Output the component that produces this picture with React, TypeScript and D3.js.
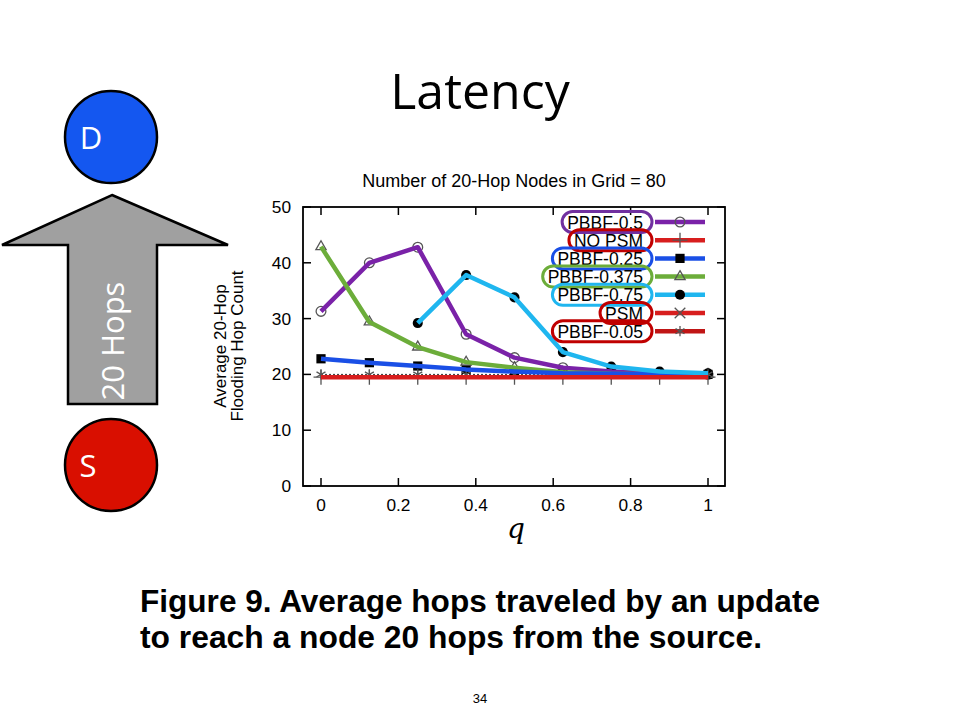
import React, { useEffect, useRef } from 'react';
import * as d3 from 'd3';

// values (q on x, hop count on y)
const qValues = [0, 0.125, 0.25, 0.375, 0.5, 0.625, 0.75, 0.875, 1];
const pbbf05 = [31.3, 40.0, 42.8, 27.2, 23.0, 21.2, 20.5, 20.2, 20.0];
const noPsm = [19.5, 19.5, 19.5, 19.5, 19.5, 19.5, 19.5, 19.5, 19.5];
const pbbf025 = [22.8, 22.1, 21.5, 20.9, 20.5, 20.2, 20.1, 20.0, 20.0];
const pbbf0375 = [42.9, 29.4, 24.9, 22.2, 21.2, 20.4, 20.1, 20.0, 20.0];
const pbbf075 = [null, null, 29.2, 37.8, 33.8, 24.0, 21.4, 20.5, 20.2];
const psm = [19.6, 19.6, 19.6, 19.6, 19.6, 19.6, 19.6, 19.6, 19.6];
const pbbf005 = [20.0, 20.0, 20.0, 20.0, 20.0, 20.0, 20.0, 20.0, 20.0];

const legendNames = ['PBBF-0.5', 'NO PSM', 'PBBF-0.25', 'PBBF-0.375', 'PBBF-0.75', 'PSM', 'PBBF-0.05'];
const xTicks = [0, 0.2, 0.4, 0.6, 0.8, 1];
const yTicks = [0, 10, 20, 30, 40, 50];

const chartFont = '"Liberation Sans", Arial, sans-serif';
const slideFont = '"Open Sans", "Noto Sans", sans-serif';

function App(): JSX.Element {
  const svgRef = useRef<SVGSVGElement>(null);

  useEffect(() => {
    const svg = d3.select(svgRef.current);
    svg.selectAll('*').remove();

    // ---- slide decorations ----
    svg.append('text')
      .attr('x', 480).attr('y', 109)
      .attr('text-anchor', 'middle')
      .attr('font-family', slideFont)
      .attr('font-size', 50)
      .text('Latency');

    const arrowPts: [number, number][] = [
      [112, 195], [228, 245], [157, 245], [157, 404], [68, 404], [68, 245], [2, 245],
    ];
    svg.append('polygon')
      .attr('points', arrowPts.map(p => p.join(',')).join(' '))
      .attr('fill', '#a0a0a0')
      .attr('stroke', '#000')
      .attr('stroke-width', 2.5);

    svg.append('text')
      .attr('transform', 'translate(124,341) rotate(-90)')
      .attr('text-anchor', 'middle')
      .attr('font-family', slideFont)
      .attr('font-size', 31)
      .attr('fill', '#fff')
      .text('20 Hops');

    const nodes = [
      { label: 'D', cy: 137, fill: '#1457f0', lx: 91 },
      { label: 'S', cy: 465, fill: '#d90f00', lx: 88 },
    ];
    nodes.forEach(n => {
      svg.append('circle')
        .attr('cx', 111).attr('cy', n.cy).attr('r', 46)
        .attr('fill', n.fill)
        .attr('stroke', '#000')
        .attr('stroke-width', 2.5);
      svg.append('text')
        .attr('x', n.lx).attr('y', n.cy + 12)
        .attr('text-anchor', 'middle')
        .attr('font-family', slideFont)
        .attr('font-size', 31)
        .attr('fill', '#fff')
        .text(n.label);
    });

    // ---- chart ----
    const x = d3.scaleLinear().domain([0, 1]).range([321, 708]);
    const y = d3.scaleLinear().domain([0, 50]).range([486, 207]);
    const box = { left: 303, right: 725, top: y(50), bottom: y(0) };

    const g = svg.append('g').attr('font-family', chartFont);

    g.append('text')
      .attr('x', 514).attr('y', 187)
      .attr('text-anchor', 'middle')
      .attr('font-size', 18)
      .text('Number of 20-Hop Nodes in Grid = 80');

    // ticks, mirrored on all sides
    const tickLen = 8;
    xTicks.forEach(t => {
      g.append('line')
        .attr('x1', x(t)).attr('x2', x(t))
        .attr('y1', box.bottom).attr('y2', box.bottom - tickLen)
        .attr('stroke', '#000').attr('stroke-width', 1.5);
      g.append('line')
        .attr('x1', x(t)).attr('x2', x(t))
        .attr('y1', box.top).attr('y2', box.top + tickLen)
        .attr('stroke', '#000').attr('stroke-width', 1.5);
      g.append('text')
        .attr('x', x(t)).attr('y', 511)
        .attr('text-anchor', 'middle')
        .attr('font-size', 17.3)
        .text(d3.format('~g')(t));
    });
    yTicks.forEach(t => {
      g.append('line')
        .attr('x1', box.left).attr('x2', box.left + tickLen)
        .attr('y1', y(t)).attr('y2', y(t))
        .attr('stroke', '#000').attr('stroke-width', 1.5);
      g.append('line')
        .attr('x1', box.right).attr('x2', box.right - tickLen)
        .attr('y1', y(t)).attr('y2', y(t))
        .attr('stroke', '#000').attr('stroke-width', 1.5);
      g.append('text')
        .attr('x', 291).attr('y', y(t) + 6)
        .attr('text-anchor', 'end')
        .attr('font-size', 17.3)
        .text(t);
    });

    g.append('text')
      .attr('transform', 'translate(226,346) rotate(-90)')
      .attr('text-anchor', 'middle')
      .attr('font-size', 17)
      .text('Average 20-Hop');
    g.append('text')
      .attr('transform', 'translate(243,346) rotate(-90)')
      .attr('text-anchor', 'middle')
      .attr('font-size', 17)
      .text('Flooding Hop Count');

    g.append('text')
      .attr('x', 516).attr('y', 538)
      .attr('text-anchor', 'middle')
      .attr('font-family', '"DejaVu Serif", "Liberation Serif", serif')
      .attr('font-style', 'italic')
      .attr('font-size', 28)
      .text('q');

    const series = [
      { name: 'PBBF-0.5', values: pbbf05, color: '#7a22a8', oval: '#7030a0', symbol: d3.symbolCircle, filled: false, width: 4.5, onPlot: true },
      { name: 'NO PSM', values: noPsm, color: '#d81e1e', oval: '#c00000', symbol: d3.symbolPlus, filled: false, width: 4.5, onPlot: true },
      { name: 'PBBF-0.25', values: pbbf025, color: '#1a4fe6', oval: '#1a4fe6', symbol: d3.symbolSquare, filled: true, width: 4.5, onPlot: true },
      { name: 'PBBF-0.375', values: pbbf0375, color: '#6cad3a', oval: '#6cad3a', symbol: d3.symbolTriangle2, filled: false, width: 4.5, onPlot: true },
      { name: 'PBBF-0.75', values: pbbf075, color: '#1fb6ef', oval: '#1fb6ef', symbol: d3.symbolCircle, filled: true, width: 4.5, onPlot: true },
      { name: 'PSM', values: psm, color: '#d81e1e', oval: '#c00000', symbol: d3.symbolTimes, filled: false, width: 4.5, onPlot: false },
      { name: 'PBBF-0.05', values: pbbf005, color: '#c01515', oval: '#c00000', symbol: d3.symbolAsterisk, filled: false, width: 4.5, onPlot: false },
    ];

    const drawMarker = (sel: any, s: any, px: number, py: number) => {
      const size = s.symbol === d3.symbolSquare ? 85 : s.filled ? 80 : 75;
      sel.append('path')
        .attr('d', d3.symbol().type(s.symbol).size(size)())
        .attr('transform', `translate(${px},${py})`)
        .attr('fill', s.filled ? '#000' : 'none')
        .attr('stroke', s.filled ? 'none' : '#555')
        .attr('stroke-width', 1.3);
    };

    const pts = (vals: (number | null)[]) =>
      qValues.map((q, i) => ({ q, v: vals[i] })).filter(d => d.v != null) as { q: number; v: number }[];

    // thin gnuplot-style dotted line for the series sitting at 20
    const line = d3.line<{ q: number; v: number }>().x(d => x(d.q)).y(d => y(d.v));
    g.append('path')
      .attr('d', line(pts(pbbf005)))
      .attr('fill', 'none')
      .attr('stroke', '#333')
      .attr('stroke-width', 1)
      .attr('stroke-dasharray', '2,2');

    // markers first, thick coloured lines over them
    series.forEach(s => {
      pts(s.values).forEach(d => {
        if (s.onPlot || s.name === 'PBBF-0.05') drawMarker(g, s, x(d.q), y(d.v));
      });
    });

    const drawOrder = ['PBBF-0.5', 'PBBF-0.375', 'PBBF-0.25', 'PBBF-0.75', 'NO PSM'];
    drawOrder.forEach(name => {
      const s = series.find(d => d.name === name)!;
      g.append('path')
        .attr('d', line(pts(s.values)))
        .attr('fill', 'none')
        .attr('stroke', s.color)
        .attr('stroke-width', s.width)
        .attr('stroke-linejoin', 'round');
    });

    g.append('rect')
      .attr('x', box.left).attr('y', box.top)
      .attr('width', box.right - box.left)
      .attr('height', box.bottom - box.top)
      .attr('fill', 'none')
      .attr('stroke', '#000')
      .attr('stroke-width', 1.8);

    // legend
    const legend = g.append('g');
    legendNames.forEach((name, i) => {
      const s = series.find(d => d.name === name)!;
      const cy = 222 + i * 18.2;
      legend.append('line')
        .attr('x1', 655).attr('x2', 705)
        .attr('y1', cy).attr('y2', cy)
        .attr('stroke', s.color)
        .attr('stroke-width', s.width);
      drawMarker(legend, s, 680, cy);
      const txt = legend.append('text')
        .attr('x', 643).attr('y', cy + 6.5)
        .attr('text-anchor', 'end')
        .attr('font-size', 17.5)
        .text(name);
      const w = (txt.node() as SVGTextElement).getComputedTextLength();
      legend.append('rect')
        .attr('x', 643 - w - 5).attr('y', cy - 10.5)
        .attr('width', w + 14).attr('height', 21)
        .attr('rx', 10.5)
        .attr('fill', 'none')
        .attr('stroke', s.oval)
        .attr('stroke-width', 3);
    });

    // caption
    const caption = [
      { text: 'Figure 9. Average hops traveled by an update', y: 612, w: 680 },
      { text: 'to reach a node 20 hops from the source.', y: 648, w: 622 },
    ];
    caption.forEach(c => {
      svg.append('text')
        .attr('x', 140).attr('y', c.y)
        .attr('font-family', '"Liberation Sans Narrow", "Liberation Sans", Arial, sans-serif')
        .attr('font-weight', 'bold')
        .attr('font-size', 31)
        .attr('textLength', c.w)
        .attr('lengthAdjust', 'spacingAndGlyphs')
        .text(c.text);
    });

    svg.append('text')
      .attr('x', 480).attr('y', 703)
      .attr('text-anchor', 'middle')
      .attr('font-family', chartFont)
      .attr('font-size', 13)
      .text('34');
  }, []);

  return (
    <svg
      ref={svgRef}
      width={960}
      height={720}
      style={{ position: 'absolute', left: 0, top: 0, background: '#fff' }}
    />
  );
}

export default App;
